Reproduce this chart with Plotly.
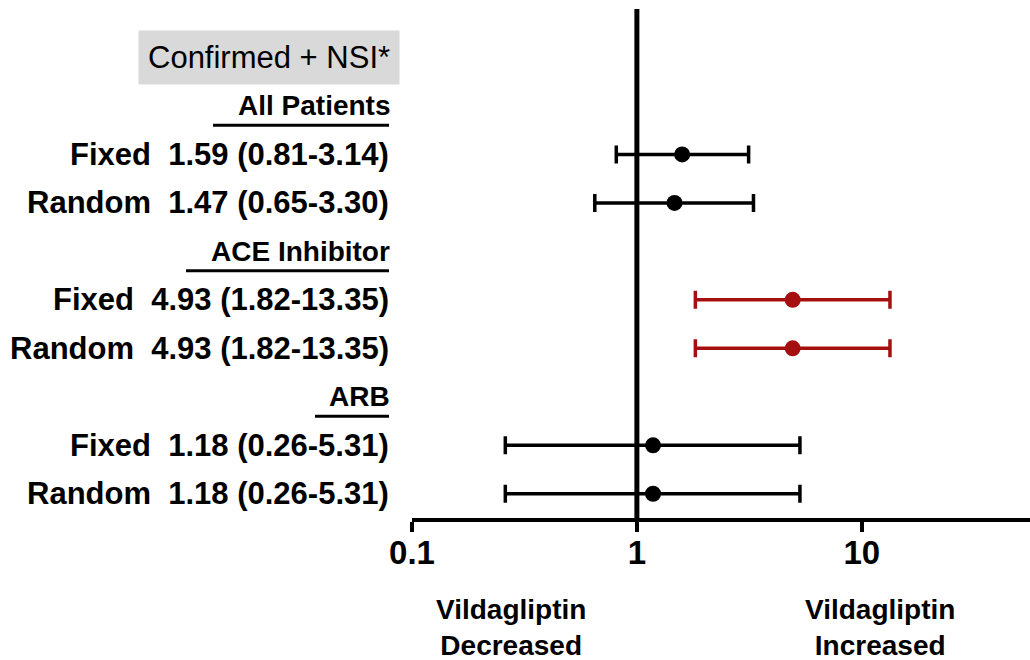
import math
import plotly.graph_objects as go

# ---- data ----
title_label = "Confirmed + NSI*"
groups = ["All Patients", "ACE Inhibitor", "ARB"]
methods = ["Fixed", "Random", "Fixed", "Random", "Fixed", "Random"]
group_of = [0, 0, 1, 1, 2, 2]
odds_ratio = [1.59, 1.47, 4.93, 4.93, 1.18, 1.18]
ci_low = [0.81, 0.65, 1.82, 1.82, 0.26, 0.26]
ci_high = [3.14, 3.30, 13.35, 13.35, 5.31, 5.31]
highlight_group = 1
tick_vals = [0.1, 1, 10]
tick_text = ["0.1", "1", "10"]
left_axis_label = "Vildagliptin<br>Decreased"
right_axis_label = "Vildagliptin<br>Increased"

FONT = "Liberation Sans, Arial, sans-serif"
BLACK = "#000000"
RED = "#a50f0f"

# ---- layout of rows (top to bottom) ----
rows = []
for g in range(len(groups)):
    rows.append(("header", g))
    for i, gi in enumerate(group_of):
        if gi == g:
            rows.append(("row", i))
n_rows = len(rows)
ypos = {}
for k, r in enumerate(rows):
    ypos[r] = n_rows - k - 0.5
title_y = n_rows + 0.5
ytop = n_rows + 1.5

fig = go.Figure()
annotations = []
shapes = []

for g in range(len(groups)):
    idx = [i for i in range(len(odds_ratio)) if group_of[i] == g]
    col = RED if g == highlight_group else BLACK
    fig.add_trace(go.Scatter(
        x=[odds_ratio[i] for i in idx],
        y=[ypos[("row", i)] for i in idx],
        mode="markers",
        marker=dict(color=col, size=16, line=dict(width=0)),
        error_x=dict(
            type="data", symmetric=False,
            array=[ci_high[i] - odds_ratio[i] for i in idx],
            arrayminus=[odds_ratio[i] - ci_low[i] for i in idx],
            color=col, thickness=3.5, width=9,
        ),
        showlegend=False, hoverinfo="skip",
    ))

for i in range(len(odds_ratio)):
    txt = f"{methods[i]}\u00a0\u00a0{odds_ratio[i]:.2f}\u00a0({ci_low[i]:.2f}-{ci_high[i]:.2f})"
    annotations.append(dict(
        x=-1, y=ypos[("row", i)], xref="x", yref="y", xshift=-21,
        text=f"<b>{txt}</b>", showarrow=False, xanchor="right", yanchor="middle",
        font=dict(family=FONT, size=31, color=BLACK),
    ))

underline_left = {0: 213, 1: 186, 2: 315}
for g in range(len(groups)):
    y = ypos[("header", g)]
    annotations.append(dict(
        x=-1, y=y, xref="x", yref="y", xshift=-20,
        text=f"<b>{groups[g]}</b>", showarrow=False, xanchor="right", yanchor="middle",
        font=dict(family=FONT, size=28, color=BLACK),
    ))

W = 1030
L = 412
R = 0
pw = W - L - R

def px_to_paper(px):
    return (px - L) / pw

for g in range(len(groups)):
    y = ypos[("header", g)] - 0.4
    shapes.append(dict(
        type="line", xref="paper", yref="y",
        x0=px_to_paper(underline_left[g]), x1=px_to_paper(389), y0=y, y1=y,
        line=dict(color=BLACK, width=3),
    ))

# title box
annotations.append(dict(
    x=-1, y=title_y, xref="x", yref="y", xshift=-12,
    text=title_label, showarrow=False, xanchor="right", yanchor="middle",
    font=dict(family=FONT, size=31, color=BLACK),
    bgcolor="#d9d9d9", borderpad=9,
))

# vertical reference line at 1
shapes.append(dict(
    type="line", xref="x", yref="y", x0=1, x1=1, y0=0, y1=ytop,
    line=dict(color=BLACK, width=5),
))

# axis direction labels (annotation x on log axis is log10 value)
annotations.append(dict(
    x=math.log10(0.276), y=0, xref="x", yref="paper", yshift=-74,
    text=f"<b>{left_axis_label}</b>", showarrow=False, xanchor="center", yanchor="top",
    font=dict(family=FONT, size=28, color=BLACK),
))
annotations.append(dict(
    x=math.log10(12.0), y=0, xref="x", yref="paper", yshift=-74,
    text=f"<b>{right_axis_label}</b>", showarrow=False, xanchor="center", yanchor="top",
    font=dict(family=FONT, size=28, color=BLACK),
))

fig.update_layout(
    width=W, height=660,
    margin=dict(l=L, r=R, t=9, b=142),
    plot_bgcolor="white", paper_bgcolor="white",
    annotations=annotations, shapes=shapes,
    xaxis=dict(
        type="log", range=[-1, math.log10(56)],
        showgrid=False, zeroline=False,
        showline=True, linecolor=BLACK, linewidth=4,
        ticks="outside", ticklen=10, tickwidth=4, tickcolor=BLACK,
        tickvals=tick_vals, ticktext=[f"<b>{t}</b>" for t in tick_text],
        tickfont=dict(family=FONT, size=33, color=BLACK),
        ticklabelstandoff=-8,
    ),
    yaxis=dict(
        range=[0, ytop], showgrid=False, zeroline=False, showline=False,
        showticklabels=False, ticks="",
    ),
)

fig.write_html("out.html")
